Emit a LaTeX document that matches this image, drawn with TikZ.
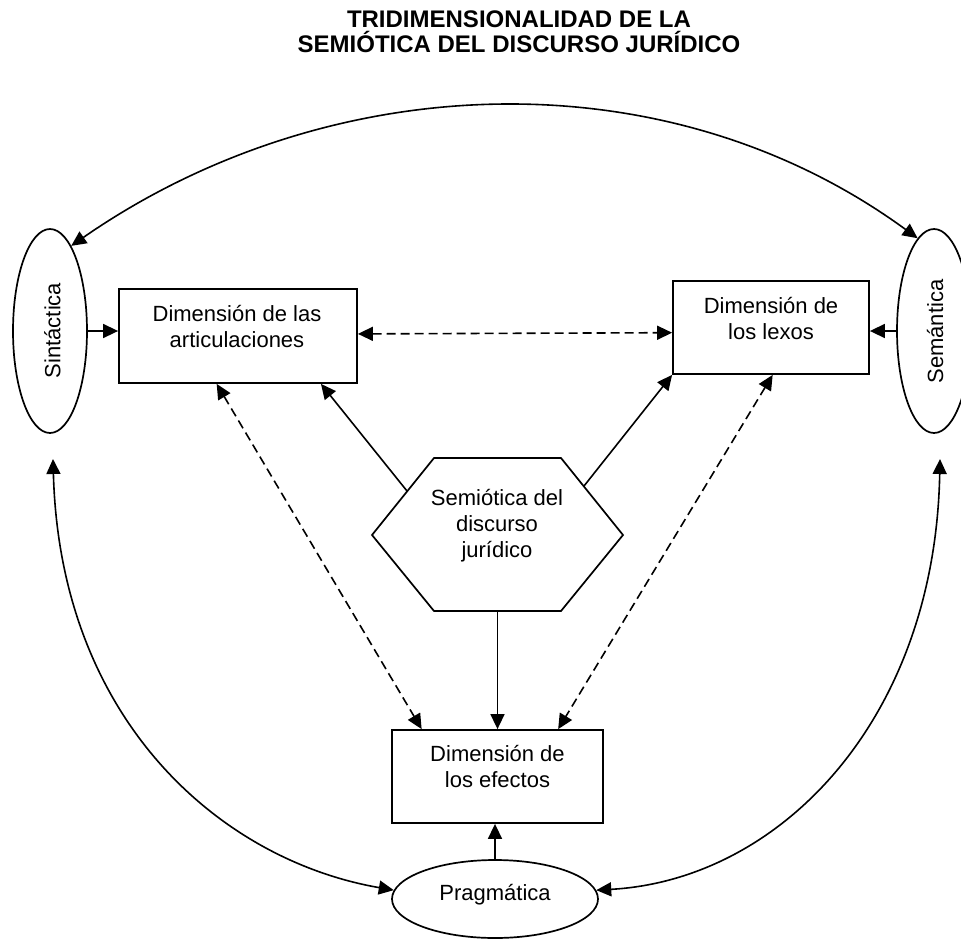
\documentclass[tikz,border=0pt]{standalone}
\usepackage{fontspec}
\setmainfont{Liberation Sans}
\usetikzlibrary{arrows.meta,shapes.geometric}
\begin{document}
\begin{tikzpicture}[x=1pt,y=-1pt,
  box/.style={draw,line width=1.8pt,rectangle,inner sep=0pt},
  oval/.style={draw,line width=1.7pt,ellipse,inner sep=0pt},
  txt/.style={inner sep=0pt,align=center,font=\fontsize{22}{26}\selectfont},
  conn/.style={line width=1.6pt,-{Triangle[length=15pt,width=14pt]}},
  dconn/.style={line width=1.6pt,{Triangle[length=15pt,width=14pt]}-{Triangle[length=15pt,width=14pt]}},
  dsh/.style={dash pattern=on 9pt off 5pt}]
\useasboundingbox (0,0) rectangle (961,940);

% title
\node[inner sep=0pt,align=center,font=\bfseries\fontsize{24}{25}\selectfont] (title) at (519,32) {TRIDIMENSIONALIDAD DE LA\\SEMIÓTICA DEL DISCURSO JURÍDICO};

% boxes
\node[box,minimum width=238pt,minimum height=94pt] (art) at (238,336) {};
\node[box,minimum width=196pt,minimum height=93pt] (lex) at (771,327.5) {};
\node[box,minimum width=211pt,minimum height=93pt] (eff) at (497.5,776.5) {};
\node[txt] (artT) at (237,326.5) {Dimensión de las\\articulaciones};
\node[txt] (lexT) at (771,318.5) {Dimensión de\\los lexos};
\node[txt] (effT) at (497.5,766.5) {Dimensión de\\los efectos};

% ovals
\node[oval,minimum width=74pt,minimum height=204pt] (sin) at (50,331) {};
\node[oval,minimum width=74pt,minimum height=204pt] (sem) at (934,331) {};
\node[oval,minimum width=206pt,minimum height=78pt] (prag) at (495,899) {};
\node[txt,rotate=90] (sinT) at (52.5,330.5) {Sintáctica};
\node[txt,rotate=90] (semT) at (935,331.5) {Semántica};
\node[txt] (pragT) at (495,895) {Pragmática};

% hexagon
\draw[line width=1.7pt] (434,458) -- (561,458) -- (623,535) -- (561,611) -- (434,611) -- (372,535) -- cycle;
\node[txt] (hexT) at (497,526) {Semiótica del\\discurso\\jurídico};
\coordinate (h1) at (407,491);
\coordinate (h2) at (584,486);
\coordinate (hb) at (497.5,611);

% free ends below the side ovals
\coordinate (sinb) at (53,459);
\coordinate (semb) at (940,459);

% connectors
\draw[conn] (sin.east) -- (sin.east -| art.west);
\draw[conn] (sem.west) -- (sem.west -| lex.east);
\draw[dconn,dsh] (art.1.9) -- (lex.-177.4);
\draw[conn] (h1) -- (art.-30.75);
\draw[conn] (h2) -- (lex.south west);
\draw[conn] (hb) -- (eff.north);
\draw[conn] (prag.north) -- (prag.north |- eff.south);
\draw[dconn,dsh] (art.-114) -- (eff.148);
\draw[dconn,dsh] (lex.-88) -- (eff.38);

% big arcs
\draw[dconn] (sin.76) .. controls (326,69) and (664,53) .. (sem.100);
\draw[dconn] (sinb) .. controls (60,720) and (220,860) .. (prag.175.5);
\draw[dconn] (semb) .. controls (935,720) and (780,880) .. (prag.5);
\end{tikzpicture}
\end{document}
